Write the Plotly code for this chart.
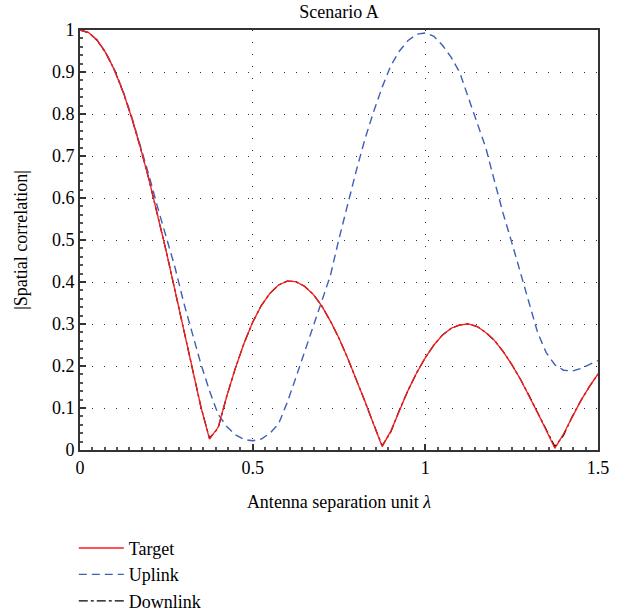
import plotly.graph_objects as go

# Antenna separation (units of wavelength), sampled every 0.025
separation = [round(i * 0.025, 3) for i in range(61)]

target = [1.000, 0.994, 0.975, 0.945, 0.904, 0.852, 0.790, 0.720, 0.643, 0.559,
          0.472, 0.380, 0.287, 0.194, 0.103, 0.026, 0.054, 0.128, 0.195, 0.254,
          0.304, 0.344, 0.373, 0.393, 0.402, 0.401, 0.390, 0.371, 0.343, 0.307,
          0.266, 0.219, 0.169, 0.116, 0.062, 0.008, 0.045, 0.095, 0.142, 0.184,
          0.220, 0.250, 0.274, 0.290, 0.298, 0.300, 0.294, 0.280, 0.261, 0.235,
          0.204, 0.169, 0.130, 0.089, 0.047, 0.004, 0.038, 0.079, 0.117, 0.151,
          0.181]

uplink = [1.000, 0.994, 0.976, 0.946, 0.905, 0.854, 0.793, 0.726, 0.653, 0.577,
          0.503, 0.435, 0.352, 0.277, 0.205, 0.141, 0.085, 0.056, 0.036, 0.025,
          0.022, 0.026, 0.040, 0.062, 0.113, 0.172, 0.233, 0.297, 0.356, 0.415,
          0.503, 0.585, 0.665, 0.740, 0.805, 0.864, 0.915, 0.950, 0.975, 0.990,
          0.993, 0.985, 0.963, 0.935, 0.898, 0.838, 0.779, 0.720, 0.641, 0.564,
          0.495, 0.425, 0.350, 0.280, 0.232, 0.203, 0.190, 0.188, 0.194, 0.203,
          0.213]

downlink = [1.000, 0.994, 0.975, 0.945, 0.904, 0.852, 0.790, 0.720, 0.643, 0.559,
            0.472, 0.380, 0.287, 0.194, 0.103, 0.028, 0.052, 0.128, 0.195, 0.254,
            0.304, 0.344, 0.373, 0.393, 0.402, 0.401, 0.390, 0.371, 0.343, 0.307,
            0.266, 0.219, 0.169, 0.116, 0.062, 0.010, 0.043, 0.095, 0.142, 0.184,
            0.220, 0.250, 0.274, 0.290, 0.298, 0.300, 0.294, 0.280, 0.261, 0.235,
            0.204, 0.169, 0.130, 0.089, 0.047, 0.008, 0.035, 0.079, 0.117, 0.151,
            0.181]

x_ticks = [0, 0.5, 1, 1.5]
x_tick_labels = ["0", "0.5", "1", "1.5"]
y_ticks = [0, 0.1, 0.2, 0.3, 0.4, 0.5, 0.6, 0.7, 0.8, 0.9, 1]
y_tick_labels = ["0", "0.1", "0.2", "0.3", "0.4", "0.5", "0.6", "0.7", "0.8", "0.9", "1"]

FONT = "Liberation Serif"
FS = 18

fig = go.Figure()
fig.add_trace(go.Scatter(x=separation, y=downlink, mode="lines", name="Downlink",
                         line=dict(color="black", width=1.3, dash="dashdot"),
                         legendrank=3))
fig.add_trace(go.Scatter(x=separation, y=uplink, mode="lines", name="Uplink",
                         line=dict(color="#3d5fb8", width=1.4, dash="8px,5px"),
                         legendrank=2))
fig.add_trace(go.Scatter(x=separation, y=target, mode="lines", name="Target",
                         line=dict(color="#ff1a1a", width=1.3),
                         legendrank=1))

fig.update_layout(
    width=628, height=614,
    margin=dict(l=80, r=30, t=30, b=164, autoexpand=False),
    paper_bgcolor="white", plot_bgcolor="white",
    font=dict(family=FONT, size=FS, color="black"),
    title=dict(text="Scenario A", x=0.5, xref="paper", xanchor="center",
               y=0.992, yanchor="top", font=dict(family=FONT, size=FS)),
    showlegend=True,
    legend=dict(x=-0.012, y=-0.19, xanchor="left", yanchor="top",
                orientation="v", font=dict(family=FONT, size=FS),
                bgcolor="rgba(0,0,0,0)", tracegroupgap=0, itemwidth=45),
)

fig.update_xaxes(
    range=[0, 1.5], tickvals=x_ticks, ticktext=x_tick_labels,
    ticks="inside", ticklen=6, tickcolor="#333", tickwidth=1.5,
    showline=True, linecolor="#333", linewidth=2, mirror=True,
    showgrid=True, gridcolor="#333", gridwidth=1, griddash="1px,11px",
    zeroline=False,
    minor=dict(dtick=1/28, ticks="inside", ticklen=3, tickcolor="#555", showgrid=False),
    title=dict(text="Antenna separation unit <i>λ</i>", standoff=19,
               font=dict(family=FONT, size=FS)),
    tickfont=dict(family=FONT, size=FS),
)
fig.update_yaxes(
    range=[0, 1], tickvals=y_ticks, ticktext=y_tick_labels,
    ticks="inside", ticklen=6, tickcolor="#333", tickwidth=1.5,
    showline=True, linecolor="#333", linewidth=2, mirror=True,
    showgrid=True, gridcolor="#333", gridwidth=1, griddash="1px,11px",
    zeroline=False,
    minor=dict(dtick=0.02, ticks="inside", ticklen=3, tickcolor="#555", showgrid=False),
    title=dict(text="|Spatial correlation|", standoff=20,
               font=dict(family=FONT, size=FS)),
    tickfont=dict(family=FONT, size=FS),
)

fig.write_html("out.html")
